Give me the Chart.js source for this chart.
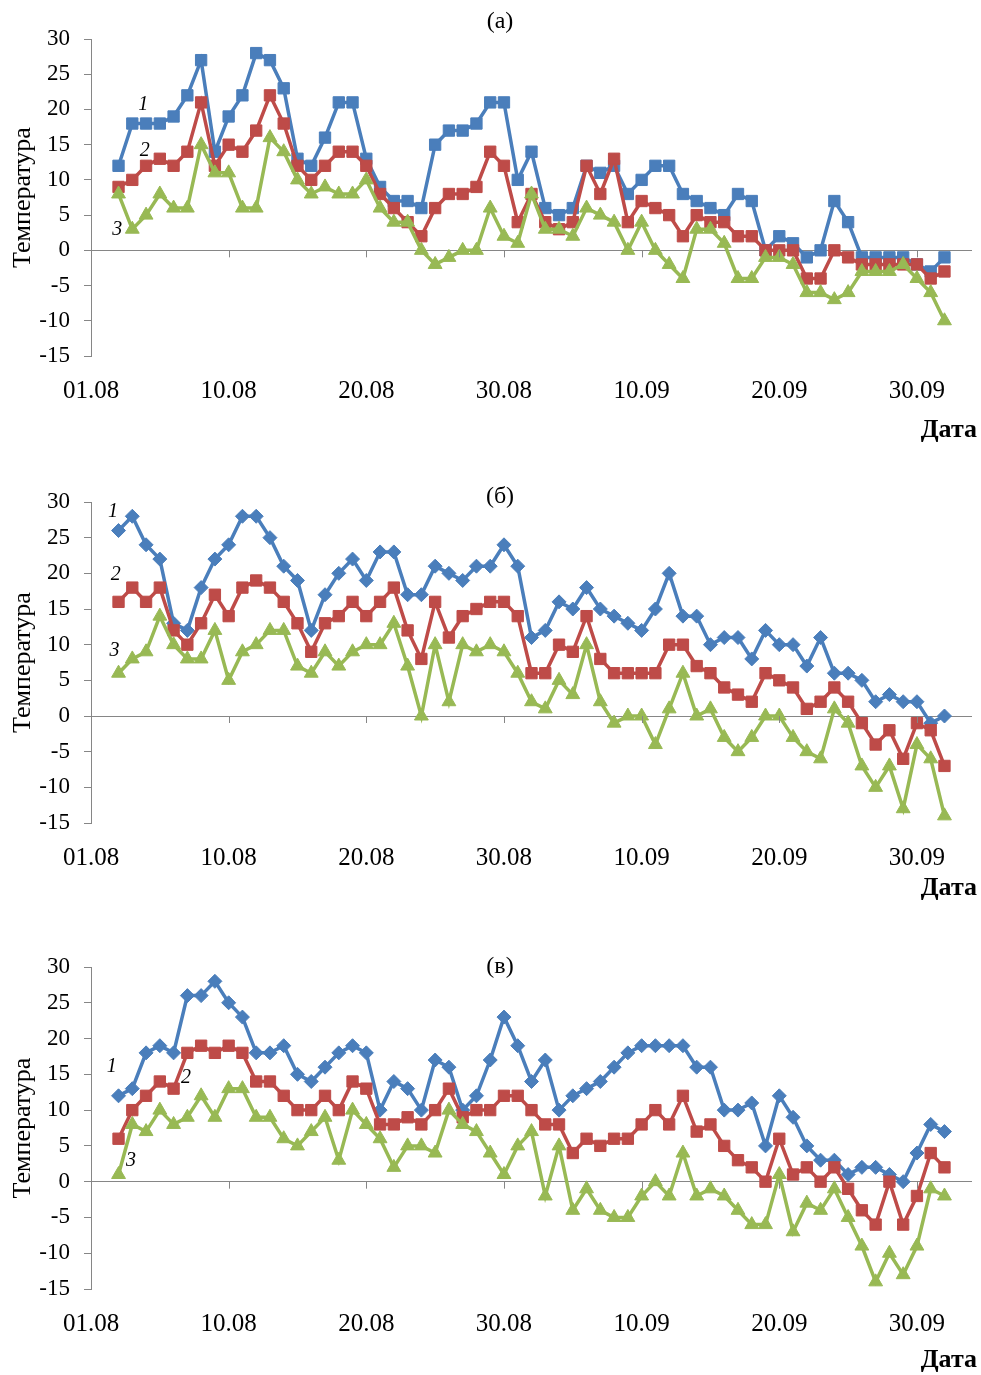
<!DOCTYPE html>
<html>
<head>
<meta charset="utf-8">
<script src="https://cdn.jsdelivr.net/npm/chart.js@4.4.0/dist/chart.umd.min.js"></script>
<style>
  body { margin: 0; background: #fff; }
  .wrap { position: relative; width: 981px; height: 1375px; }
  canvas { position: absolute; left: 0; }
</style>
</head>
<body>
<div class="wrap">
  <canvas id="chartA" width="981" height="460" style="top:0px"></canvas>
  <canvas id="chartB" width="981" height="460" style="top:462px"></canvas>
  <canvas id="chartC" width="981" height="448" style="top:927px"></canvas>
</div>
<script>
// x = day number on the date axis (first measurement is day 2)
const firstDay = 2;
const xTickValues = [0, 10, 20, 30, 40, 50, 60];
const xTickLabels = ['01.08', '10.08', '20.08', '30.08', '10.09', '20.09', '30.09'];
const yMin = -15, yMax = 30, yStep = 5;

// panel (а)
const a1 = [12, 18, 18, 18, 19, 22, 27, 14, 19, 22, 28, 27, 23, 13, 12, 16, 21, 21, 13, 9, 7, 7, 6, 15, 17, 17, 18, 21, 21, 10, 14, 6, 5, 6, 12, 11, 12, 8, 10, 12, 12, 8, 7, 6, 5, 8, 7, 0, 2, 1, -1, 0, 7, 4, -1, -1, -1, -1, -2, -3, -1];
const a2 = [9, 10, 12, 13, 12, 14, 21, 12, 15, 14, 17, 22, 18, 12, 10, 12, 14, 14, 12, 8, 6, 4, 2, 6, 8, 8, 9, 14, 12, 4, 8, 4, 3, 4, 12, 8, 13, 4, 7, 6, 5, 2, 5, 4, 4, 2, 2, 0, 0, 0, -4, -4, 0, -1, -2, -2, -2, -2, -2, -4, -3];
const a3 = [8, 3, 5, 8, 6, 6, 15, 11, 11, 6, 6, 16, 14, 10, 8, 9, 8, 8, 10, 6, 4, 4, 0, -2, -1, 0, 0, 6, 2, 1, 8, 3, 3, 2, 6, 5, 4, 0, 4, 0, -2, -4, 3, 3, 1, -4, -4, -1, -1, -2, -6, -6, -7, -6, -3, -3, -3, -2, -4, -6, -10];

// panel (б)
const b1 = [26, 28, 24, 22, 13, 12, 18, 22, 24, 28, 28, 25, 21, 19, 12, 17, 20, 22, 19, 23, 23, 17, 17, 21, 20, 19, 21, 21, 24, 21, 11, 12, 16, 15, 18, 15, 14, 13, 12, 15, 20, 14, 14, 10, 11, 11, 8, 12, 10, 10, 7, 11, 6, 6, 5, 2, 3, 2, 2, -1, 0];
const b2 = [16, 18, 16, 18, 12, 10, 13, 17, 14, 18, 19, 18, 16, 13, 9, 13, 14, 16, 14, 16, 18, 12, 8, 16, 11, 14, 15, 16, 16, 14, 6, 6, 10, 9, 14, 8, 6, 6, 6, 6, 10, 10, 7, 6, 4, 3, 2, 6, 5, 4, 1, 2, 4, 2, -1, -4, -2, -6, -1, -2, -7];
const b3 = [6, 8, 9, 14, 10, 8, 8, 12, 5, 9, 10, 12, 12, 7, 6, 9, 7, 9, 10, 10, 13, 7, 0, 10, 2, 10, 9, 10, 9, 6, 2, 1, 5, 3, 10, 2, -1, 0, 0, -4, 1, 6, 0, 1, -3, -5, -3, 0, 0, -3, -5, -6, 1, -1, -7, -10, -7, -13, -4, -6, -14];

// panel (в)
const c1 = [12, 13, 18, 19, 18, 26, 26, 28, 25, 23, 18, 18, 19, 15, 14, 16, 18, 19, 18, 10, 14, 13, 10, 17, 16, 10, 12, 17, 23, 19, 14, 17, 10, 12, 13, 14, 16, 18, 19, 19, 19, 19, 16, 16, 10, 10, 11, 5, 12, 9, 5, 3, 3, 1, 2, 2, 1, 0, 4, 8, 7];
const c2 = [6, 10, 12, 14, 13, 18, 19, 18, 19, 18, 14, 14, 12, 10, 10, 12, 10, 14, 13, 8, 8, 9, 8, 10, 13, 9, 10, 10, 12, 12, 10, 8, 8, 4, 6, 5, 6, 6, 8, 10, 8, 12, 7, 8, 5, 3, 2, 0, 6, 1, 2, 0, 2, -1, -4, -6, 0, -6, -2, 4, 2];
const c3 = [1, 8, 7, 10, 8, 9, 12, 9, 13, 13, 9, 9, 6, 5, 7, 9, 3, 10, 8, 6, 2, 5, 5, 4, 10, 8, 7, 4, 1, 5, 7, -2, 5, -4, -1, -4, -5, -5, -2, 0, -2, 4, -2, -1, -2, -4, -6, -6, 1, -7, -3, -4, -1, -5, -9, -14, -10, -13, -9, -1, -2];

const blue = '#4A7EBB';
const red = '#BE4B48';
const green = '#98B954';
const axisColor = '#868686';
const serif = "'Liberation Serif', 'Times New Roman', serif";

function toPoints(values) {
    return values.map((v, i) => ({ x: firstDay + i, y: v }));
}

function series(values, color, style, radius, order) {
    return {
        data: toPoints(values),
        borderColor: color,
        backgroundColor: color,
        borderWidth: 3.5,
        pointStyle: style,
        pointRadius: radius,
        pointBorderWidth: 1,
        pointBorderColor: color,
        pointBackgroundColor: color,
        tension: 0,
        order: order
    };
}

// panel caption, curve numbers, "Дата" and the small ticks on the zero line
function annotations(cfg) {
    return {
        id: 'annotations',
        afterDraw(chart) {
            const ctx = chart.ctx;
            const xs = chart.scales.x, ys = chart.scales.y;
            const y0 = ys.getPixelForValue(0);
            ctx.save();
            ctx.strokeStyle = axisColor;
            ctx.lineWidth = 1;
            xTickValues.slice(1).forEach(v => {
                const px = Math.round(xs.getPixelForValue(v)) + 0.5;
                ctx.beginPath();
                ctx.moveTo(px, y0);
                ctx.lineTo(px, y0 + 7);
                ctx.stroke();
            });
            ctx.fillStyle = '#000';
            ctx.textBaseline = 'middle';
            ctx.textAlign = 'center';
            ctx.font = '24px ' + serif;
            ctx.fillText(cfg.caption, 500, cfg.captionY);
            ctx.font = 'italic 20px ' + serif;
            cfg.curveLabels.forEach(l => {
                ctx.fillText(l.text, xs.getPixelForValue(l.x), ys.getPixelForValue(l.y));
            });
            ctx.textAlign = 'right';
            ctx.font = 'bold 26px ' + serif;
            ctx.fillText('Дата', 977, cfg.dateY);
            ctx.restore();
        }
    };
}

function makePanel(id, cfg) {
    const ctx = document.getElementById(id).getContext('2d');
    return new Chart(ctx, {
        type: 'line',
        data: {
            datasets: [
                series(cfg.s1, blue, cfg.blueStyle, cfg.blueRadius, 3),
                series(cfg.s2, red, 'rect', 8, 2),
                series(cfg.s3, green, 'triangle', 8, 1)
            ]
        },
        options: {
            responsive: false,
            animation: false,
            layout: { padding: { top: cfg.padTop, right: 5, left: 0, bottom: 0 } },
            plugins: {
                legend: { display: false },
                tooltip: { enabled: false }
            },
            scales: {
                x: {
                    type: 'linear',
                    min: 0,
                    max: 64,
                    afterBuildTicks: s => { s.ticks = xTickValues.map(v => ({ value: v })); },
                    afterFit: s => { s.height = cfg.axisHeight; },
                    grid: { display: false, drawTicks: false },
                    border: { display: false },
                    ticks: {
                        autoSkip: false,
                        maxRotation: 0,
                        padding: 20,
                        color: '#000',
                        font: { family: serif, size: 25 },
                        callback: (v, i) => xTickLabels[i]
                    }
                },
                y: {
                    min: yMin,
                    max: yMax,
                    afterFit: s => { s.width = 91; },
                    grid: {
                        color: c => (c.tick && c.tick.value === 0) ? axisColor : 'rgba(0,0,0,0)',
                        tickColor: axisColor,
                        tickLength: 7,
                        lineWidth: 1
                    },
                    border: { display: true, color: axisColor, width: 1 },
                    ticks: {
                        stepSize: yStep,
                        padding: 14,
                        color: '#000',
                        font: { family: serif, size: 23 }
                    },
                    title: {
                        display: true,
                        text: 'Температура',
                        color: '#000',
                        font: { family: serif, size: 26 },
                        padding: { top: 8, bottom: 0 }
                    }
                }
            }
        },
        plugins: [annotations(cfg)]
    });
}

makePanel('chartA', {
    s1: a1, s2: a2, s3: a3,
    blueStyle: 'rect', blueRadius: 8,
    padTop: 39, axisHeight: 104,
    caption: '(а)', captionY: 22, dateY: 430,
    curveLabels: [
        { text: '1', x: 3.8, y: 20.6 },
        { text: '2', x: 3.9, y: 14.2 },
        { text: '3', x: 1.9, y: 2.9 }
    ]
});

makePanel('chartB', {
    s1: b1, s2: b2, s3: b3,
    blueStyle: 'rectRot', blueRadius: 7,
    padTop: 40, axisHeight: 99,
    caption: '(б)', captionY: 35, dateY: 426,
    curveLabels: [
        { text: '1', x: 1.6, y: 28.6 },
        { text: '2', x: 1.8, y: 19.8 },
        { text: '3', x: 1.7, y: 9.1 }
    ]
});

makePanel('chartC', {
    s1: c1, s2: c2, s3: c3,
    blueStyle: 'rectRot', blueRadius: 7,
    padTop: 40, axisHeight: 86,
    caption: '(в)', captionY: 40, dateY: 433,
    curveLabels: [
        { text: '1', x: 1.5, y: 16.1 },
        { text: '2', x: 6.9, y: 14.5 },
        { text: '3', x: 2.9, y: 2.9 }
    ]
});
</script>
</body>
</html>
